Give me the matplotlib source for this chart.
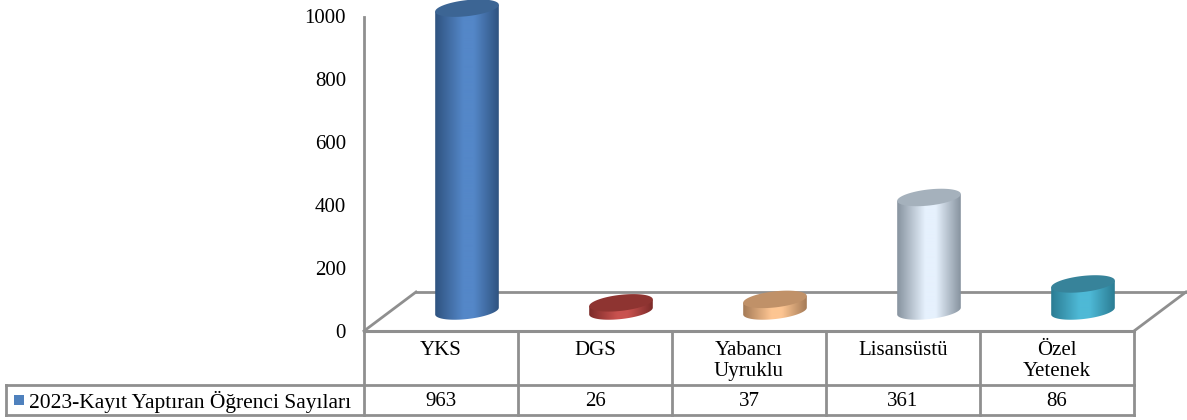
import numpy as np
import matplotlib
matplotlib.use("Agg")
import matplotlib.pyplot as plt
from matplotlib.colors import LinearSegmentedColormap
from matplotlib.patches import Polygon

categories = ["YKS", "DGS", "Yabancı\nUyruklu", "Lisansüstü", "Özel\nYetenek"]
values = [963, 26, 37, 361, 86]
value_labels = ["963", "26", "37", "361", "86"]
y_ticks = [0, 200, 400, 600, 800, 1000]
series_name = "2023-Kayıt Yaptıran Öğrenci Sayıları"
side_edges = ["#2f5380", "#7c2b29", "#a57b57", "#87939f", "#2b7c93"]
side_mids = ["#5487c8", "#c9524f", "#fdc592", "#e6f1fd", "#4eb9d6"]
top_colors = ["#3c6594", "#8e3431", "#c09168", "#a5b1bc", "#37839a"]
GRAY = "#8f8f8f"

W, H = 1187, 420
plt.rcParams["font.family"] = ["Liberation Serif", "DejaVu Serif"]
fig = plt.figure(figsize=(W / 100, H / 100), dpi=100, facecolor="white")
L, R, T, B = 364, 1134, 16.5, 331
uy = (B - T) / 1000       # pixels per value unit
YMAX = B / uy             # axes run up to the top of the figure
ax = fig.add_axes([L / W, 1 - B / H, (R - L) / W, B / H])
ax.set_xlim(-0.5, 4.5)
ax.set_ylim(0, YMAX)
ax.axis("off")
ux = (R - L) / 5          # pixels per category


def pix(x, y):
    return (x - L) / ux - 0.5, (B - y) / uy


def line(x0, y0, x1, y1, lw=2.0, z=1):
    a, b = pix(x0, y0), pix(x1, y1)
    ax.plot([a[0], b[0]], [a[1], b[1]], color=GRAY, lw=lw, clip_on=False,
            zorder=z, solid_capstyle="projecting")


# walls / floor
line(L, T, L, B)
line(L, B, R, B, lw=2.2, z=6)
line(L, B, L + 52, 292)
line(L + 52, 292, R + 52, 292)
line(R + 52, 292, R, B)

# cylinders
RX, RY, TILT = 32.0, 8.0, np.radians(-6.5)
OX, OY = 26.0, 20.0
t = np.linspace(0, 2 * np.pi, 181)[:-1]
ex = RX * np.cos(t) * np.cos(TILT) - RY * np.sin(t) * np.sin(TILT)
ey = RX * np.cos(t) * np.sin(TILT) + RY * np.sin(t) * np.cos(TILT)
dxs, dys = ex / ux, -ey / uy
n = len(t)
il, ir = int(np.argmin(ex)), int(np.argmax(ex))
half = (ir + np.arange(((il - ir) % n) + 1)) % n   # lower half of the ellipse
grad = np.interp(np.linspace(0, 1, 256), [0, .45, .6, 1], [0, .34, .66, 1])[None, :]

for i, v in enumerate(values):
    cx = i + OX / ux
    base = OY / uy
    top = base + v
    bot_x, bot_y = cx + dxs[half], base + dys[half]
    body = np.column_stack([
        np.r_[bot_x, cx + dxs[il], cx + dxs[ir]],
        np.r_[bot_y, top + dys[il], top + dys[ir]],
    ])
    poly = Polygon(body, closed=True, facecolor="none", edgecolor="none", zorder=3)
    ax.add_patch(poly)
    cmap = LinearSegmentedColormap.from_list(
        "c", [side_edges[i], side_mids[i], side_mids[i], side_edges[i]])
    im = ax.imshow(grad, cmap=cmap, aspect="auto", zorder=3, interpolation="bilinear",
                   vmin=0, vmax=1,
                   extent=[cx - RX / ux, cx + RX / ux, base + dys.min(), top + dys.max()])
    im.set_clip_path(poly)
    ax.add_patch(Polygon(np.column_stack([cx + dxs, top + dys]), closed=True,
                         facecolor=top_colors[i], edgecolor="none", zorder=4))
ax.set_xlim(-0.5, 4.5)
ax.set_ylim(0, YMAX)

# value axis labels
x_lab = pix(346, 0)[0]
for v in y_ticks:
    ax.text(x_lab, v - 2 / uy, str(v), ha="right", va="center", fontsize=15,
            color="black", clip_on=False)

# table grid
ROW, BOT, LEFT = 384.5, 414.5, 6
line(LEFT, ROW, R, ROW)
line(LEFT, BOT, R, BOT)
line(LEFT, ROW, LEFT, BOT)
line(L, B, L, BOT)
for k in range(1, 6):
    line(L + k * ux, B, L + k * ux, BOT)

# table text
for i, (c, s) in enumerate(zip(categories, value_labels)):
    x, y = pix(L + (i + 0.5) * ux, 341)
    ax.text(x, y, c, ha="center", va="top", fontsize=15, linespacing=1.15, clip_on=False)
    x, y = pix(L + (i + 0.5) * ux, 402)
    ax.text(x, y, s, ha="center", va="center", fontsize=15, clip_on=False)

# legend key + series name
a, b = pix(14, 405)
w, h = 10 / ux, 10 / uy
ax.add_patch(Polygon([(a, b), (a + w, b), (a + w, b + h), (a, b + h)], closed=True,
                     facecolor="#4f81bd", edgecolor="none", clip_on=False))
x, y = pix(29, 402)
ax.text(x, y, series_name, ha="left", va="center", fontsize=15.5, clip_on=False)

fig.savefig("out.png", dpi=100, facecolor="white")
